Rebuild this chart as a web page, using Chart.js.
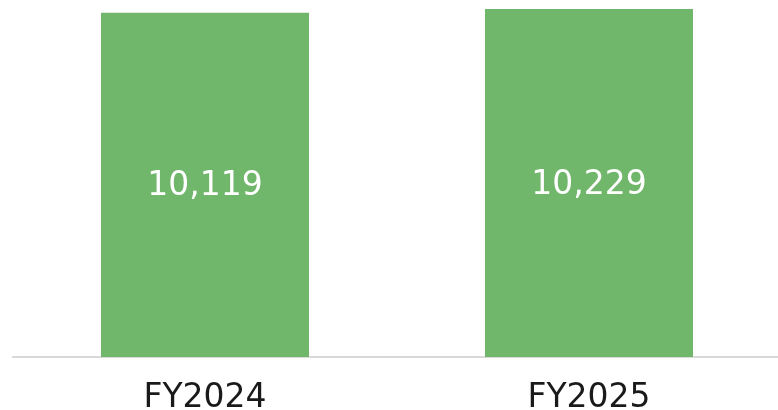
<!DOCTYPE html>
<html>
<head>
<meta charset="utf-8">
<script src="https://cdn.jsdelivr.net/npm/chart.js@4"></script>
<style>
  html, body { margin: 0; padding: 0; background: #ffffff; overflow: hidden; }
  #wrap { width: 781px; height: 410px; position: relative; }
</style>
</head>
<body>
<div id="wrap"><canvas id="c"></canvas></div>
<script>
const categories = ["FY2024", "FY2025"];
const values = [10119, 10229];
const valueLabels = ["10,119", "10,229"];

const FONT = "'DejaVu Sans', sans-serif";

const labelPlugin = {
  id: 'barLabels',
  afterDatasetsDraw(chart) {
    const ctx = chart.ctx;
    const meta = chart.getDatasetMeta(0);
    ctx.save();
    ctx.fillStyle = '#ffffff';
    ctx.font = '33px ' + FONT;
    ctx.textAlign = 'center';
    ctx.textBaseline = 'middle';
    meta.data.forEach((bar, i) => {
      const y = (bar.y + bar.base) / 2 + 2;
      ctx.fillText(valueLabels[i], bar.x, y);
    });
    ctx.restore();
  }
};

new Chart(document.getElementById('c'), {
  type: 'bar',
  data: {
    labels: categories,
    datasets: [{
      data: values,
      backgroundColor: '#70b66b',
      borderWidth: 0,
      barPercentage: 0.5417,
      categoryPercentage: 1.0
    }]
  },
  options: {
    responsive: true,
    maintainAspectRatio: false,
    animation: false,
    layout: { padding: { left: 13, right: 0, top: 0, bottom: -29 } },
    plugins: { legend: { display: false }, tooltip: { enabled: false } },
    scales: {
      x: {
        grid: { display: false, drawTicks: false },
        border: { display: true, color: '#d9d9d9', width: 2 },
        ticks: {
          color: '#1a1a1a',
          font: { family: FONT, size: 33, lineHeight: 0.485 },
          padding: 33
        }
      },
      y: {
        display: false,
        min: 0,
        max: 10494
      }
    }
  },
  plugins: [labelPlugin]
});
</script>
</body>
</html>
